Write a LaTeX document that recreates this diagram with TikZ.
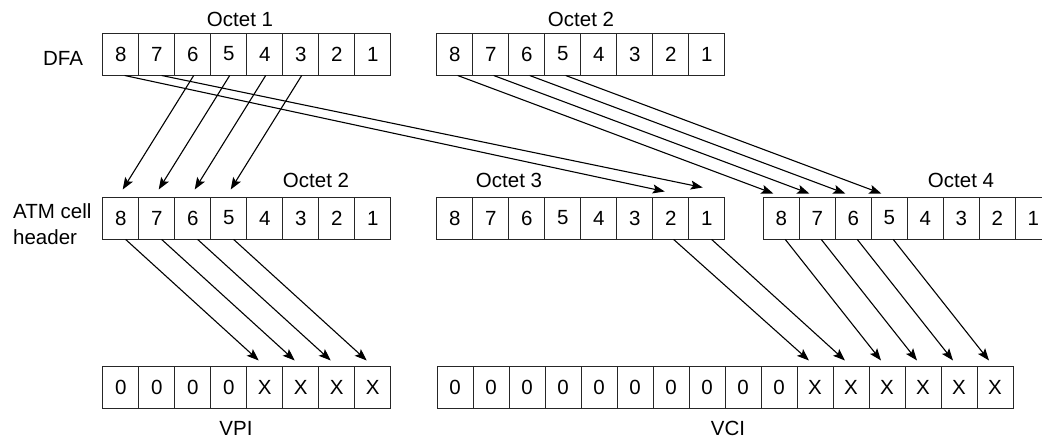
\documentclass[tikz,border=0pt]{standalone}
\usepackage{fontspec}
\setmainfont{Liberation Sans}
\usetikzlibrary{arrows.meta}
\begin{document}
\begin{tikzpicture}[x=1pt,y=-1pt,
  cell/.style={draw=black!85, line width=1pt, minimum width=36pt, minimum height=42pt, inner sep=0pt, font=\fontsize{20.5}{24}\selectfont},
  lbl/.style={inner sep=0pt, font=\fontsize{20.5}{26}\selectfont},
  arr/.style={line width=1.1pt, -{Stealth[length=12pt,width=9pt,inset=2.5pt]}}]
\useasboundingbox (0,0) rectangle (1042,439);
\clip (0,0) rectangle (1042,439);
% top row
\foreach \b [count=\i from 0] in {8,7,6,5,4,3,2,1} {
  \node[cell] (d\b) at (120.7+36*\i,54) {\b};
  \node[cell] (t\b) at (454.7+36*\i,54) {\b};
  \node[cell] (a\b) at (120.7+36*\i,218) {\b};
  \node[cell] (c\b) at (454.7+36*\i,218) {\b};
  \node[cell] (f\b) at (781.3+36*\i,218) {\b};
}
% bottom row
\foreach \t [count=\i from 0] in {0,0,0,0,X,X,X,X}
  \node[cell] (p\i) at (120.7+36*\i,387) {\t};
\foreach \t [count=\i from 0] in {0,0,0,0,0,0,0,0,0,0,X,X,X,X,X,X}
  \node[cell] (v\i) at (455+36*\i,387) {\t};
% labels
\node[lbl, anchor=base] (o1) at (240,27) {Octet 1};
\node[lbl, anchor=base] (o2) at (581,27) {Octet 2};
\node[lbl, anchor=base] (dfa) at (63,65) {DFA};
\node[lbl, anchor=north west, align=left] (atm) at (13,203) {ATM cell\\header};
\node[lbl, anchor=base] (o2m) at (316,187) {Octet 2};
\node[lbl, anchor=base] (o3) at (509,187) {Octet 3};
\node[lbl, anchor=base] (o4) at (961,187) {Octet 4};
\node[lbl, anchor=base] (vpi) at (236,435) {VPI};
\node[lbl, anchor=base] (vci) at (728,435) {VCI};
% arrows top -> middle
\foreach \s/\e in {6/8,5/7,4/6,3/5}
  \draw[arr] ([xshift=1pt]d\s.south) -- ([xshift=2pt,yshift=7pt]a\e.north);
\draw[arr] ([xshift=4pt]d8.south) -- ([xshift=-6pt,yshift=5pt]c2.north);
\draw[arr] ([xshift=5pt]d7.south) -- ([xshift=-4pt,yshift=9pt]c1.north);
\foreach \s in {8,7,6,5}
  \draw[arr] ([xshift=3pt]t\s.south) -- ([xshift=-8pt,yshift=3pt]f\s.north);
% arrows middle -> bottom
\foreach \s/\e in {8/4,7/5,6/6,5/7}
  \draw[arr] ([xshift=5pt]a\s.south) -- ([xshift=-6pt,yshift=5pt]p\e.north);
\draw[arr] ([xshift=3pt]c2.south) -- ([xshift=-6pt,yshift=5pt]v10.north);
\draw[arr] ([xshift=5pt]c1.south) -- ([xshift=-6pt,yshift=5pt]v11.north);
\foreach \s/\e in {8/12,7/13,6/14,5/15}
  \draw[arr] ([xshift=4pt]f\s.south) -- ([xshift=-6pt,yshift=5pt]v\e.north);
\end{tikzpicture}
\end{document}
